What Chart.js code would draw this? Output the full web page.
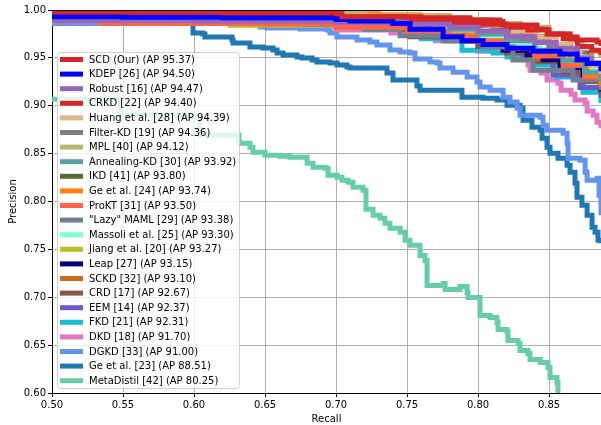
<!DOCTYPE html>
<html>
<head>
<meta charset="utf-8">
<script src="https://cdn.jsdelivr.net/npm/chart.js@4.4.0/dist/chart.umd.min.js"></script>
<style>
  html, body { margin: 0; padding: 0; background: #fff; }
</style>
</head>
<body>
<canvas id="pr" width="601" height="425"></canvas>
<script>
// precision-recall points [recall, precision]
const scd = [[0.5,0.998],[0.62,0.997],[0.70,0.996],[0.7042,0.993],[0.76,0.992],[0.7944,0.9895],[0.8155,0.988],[0.8176,0.9843],[0.8415,0.980],[0.8486,0.975],[0.8648,0.9718],[0.8697,0.9686],[0.8838,0.9665],[0.8866,0.9623],[0.89,0.958]];
const kdep = [[0.5,0.993],[0.55,0.9925],[0.62,0.992],[0.70,0.990],[0.7099,0.9885],[0.74,0.986],[0.7521,0.980],[0.7754,0.972],[0.7887,0.968],[0.8035,0.964],[0.8204,0.960],[0.8387,0.957],[0.8577,0.954],[0.8697,0.948],[0.8768,0.944],[0.8866,0.936],[0.89,0.93]];
const robust = [[0.5,0.989],[0.60,0.9885],[0.70,0.987],[0.75,0.985],[0.78,0.982],[0.80,0.978],[0.82,0.972],[0.84,0.966],[0.855,0.960],[0.87,0.950],[0.88,0.944],[0.8866,0.938],[0.89,0.934]];
const crkd = [[0.5,0.996],[0.65,0.995],[0.70,0.993],[0.75,0.990],[0.78,0.987],[0.80,0.985],[0.82,0.982],[0.835,0.979],[0.85,0.975],[0.86,0.970],[0.87,0.962],[0.88,0.958],[0.8866,0.953],[0.89,0.95]];
const huang = [[0.5,0.995],[0.60,0.994],[0.70,0.993],[0.7683,0.991],[0.79,0.988],[0.8063,0.9843],[0.825,0.978],[0.8415,0.9718],[0.855,0.964],[0.8648,0.9582],[0.8718,0.9508],[0.88,0.942],[0.8866,0.933],[0.89,0.93]];
const filterKd = [[0.5,0.994],[0.60,0.993],[0.70,0.991],[0.75,0.988],[0.79,0.984],[0.81,0.978],[0.83,0.970],[0.85,0.962],[0.865,0.955],[0.875,0.945],[0.8866,0.932],[0.89,0.928]];
const mpl = [[0.5,0.997],[0.65,0.996],[0.72,0.994],[0.78,0.990],[0.81,0.986],[0.83,0.982],[0.85,0.975],[0.865,0.968],[0.8732,0.962],[0.88,0.957],[0.8866,0.950],[0.89,0.946]];
const annealing = [[0.5,0.993],[0.60,0.992],[0.68,0.990],[0.74,0.986],[0.78,0.980],[0.80,0.975],[0.82,0.968],[0.84,0.958],[0.86,0.947],[0.875,0.935],[0.8866,0.925],[0.89,0.92]];
const ikd = [[0.5,0.996],[0.65,0.995],[0.72,0.993],[0.7521,0.990],[0.79,0.985],[0.81,0.979],[0.83,0.972],[0.85,0.963],[0.865,0.955],[0.88,0.943],[0.8866,0.935],[0.89,0.93]];
const ge24 = [[0.5,0.997],[0.65,0.996],[0.73,0.995],[0.7592,0.994],[0.78,0.990],[0.80,0.984],[0.82,0.976],[0.84,0.966],[0.855,0.956],[0.8648,0.9456],[0.8768,0.932],[0.8866,0.921],[0.89,0.917]];
const prokt = [[0.5,0.9885],[0.5345,0.9859],[0.65,0.9855],[0.70,0.982],[0.75,0.978],[0.78,0.973],[0.80,0.968],[0.82,0.960],[0.84,0.952],[0.86,0.942],[0.875,0.930],[0.8866,0.920],[0.89,0.916]];
const lazyMaml = [[0.5,0.990],[0.60,0.988],[0.68,0.985],[0.72,0.980],[0.7451,0.973],[0.7754,0.968],[0.8035,0.9613],[0.8246,0.9477],[0.8387,0.937],[0.8669,0.9268],[0.8866,0.9163],[0.89,0.912]];
const massoli = [[0.5,0.994],[0.65,0.992],[0.72,0.988],[0.77,0.980],[0.80,0.972],[0.8225,0.965],[0.8437,0.958],[0.8599,0.953],[0.8718,0.9487],[0.88,0.940],[0.8866,0.933],[0.89,0.93]];
const jiang = [[0.5,0.993],[0.60,0.990],[0.6254,0.984],[0.72,0.982],[0.76,0.978],[0.80,0.970],[0.82,0.962],[0.84,0.955],[0.86,0.945],[0.875,0.935],[0.8866,0.925],[0.89,0.92]];
const leap = [[0.5,0.992],[0.62,0.990],[0.70,0.987],[0.75,0.980],[0.79,0.968],[0.8176,0.958],[0.8345,0.953],[0.8458,0.948],[0.8577,0.940],[0.874,0.930],[0.8866,0.915],[0.89,0.91]];
const sckd = [[0.5,0.991],[0.58,0.989],[0.66,0.986],[0.70,0.982],[0.75,0.977],[0.79,0.968],[0.82,0.958],[0.84,0.950],[0.86,0.940],[0.875,0.930],[0.8866,0.918],[0.89,0.914]];
const crd = [[0.5,0.990],[0.62,0.987],[0.70,0.983],[0.7451,0.980],[0.7521,0.972],[0.7775,0.968],[0.80,0.962],[0.82,0.955],[0.84,0.946],[0.86,0.935],[0.875,0.925],[0.8866,0.912],[0.89,0.908]];
const eem = [[0.5,0.992],[0.65,0.989],[0.72,0.984],[0.77,0.972],[0.80,0.962],[0.8317,0.951],[0.8528,0.932],[0.8718,0.919],[0.8866,0.908],[0.89,0.90]];
const fkd = [[0.5,0.992],[0.57,0.990],[0.65,0.987],[0.72,0.980],[0.76,0.970],[0.7887,0.958],[0.8106,0.955],[0.8204,0.951],[0.8387,0.9425],[0.855,0.930],[0.874,0.914],[0.8866,0.903],[0.89,0.90]];
const dkd = [[0.5,0.990],[0.60,0.986],[0.70,0.979],[0.7387,0.9759],[0.77,0.968],[0.80,0.957],[0.8296,0.9498],[0.8352,0.9425],[0.8366,0.9372],[0.8444,0.9341],[0.8486,0.9268],[0.8563,0.9236],[0.8585,0.9163],[0.8655,0.9121],[0.8683,0.9059],[0.8754,0.9027],[0.8768,0.8944],[0.8810,0.8902],[0.8838,0.8828],[0.8866,0.8766],[0.89,0.87]];
const dgkd = [[0.5,0.986],[0.6465,0.9822],[0.6514,0.9812],[0.6746,0.9801],[0.6937,0.9791],[0.6958,0.9759],[0.7007,0.9718],[0.7099,0.9718],[0.7148,0.9686],[0.7239,0.9665],[0.7289,0.9634],[0.7380,0.9582],[0.7451,0.9561],[0.7521,0.9550],[0.7556,0.9487],[0.7662,0.9456],[0.7711,0.9446],[0.7732,0.9393],[0.7824,0.9351],[0.7923,0.9299],[0.7993,0.9247],[0.8014,0.9195],[0.8085,0.9163],[0.8176,0.9090],[0.8225,0.9038],[0.8275,0.8975],[0.8296,0.8902],[0.8437,0.8881],[0.8458,0.8797],[0.8486,0.8745],[0.8599,0.8713],[0.8627,0.8609],[0.8634,0.8452],[0.8718,0.8431],[0.8754,0.8305],[0.8768,0.8222],[0.8838,0.8243],[0.8852,0.8065],[0.8866,0.7856],[0.89,0.78]];
const ge23 = [[0.5,0.987],[0.5993,0.9843],[0.5993,0.9759],[0.6063,0.9749],[0.6077,0.9718],[0.6268,0.9686],[0.6275,0.9655],[0.6394,0.9613],[0.6486,0.9603],[0.6556,0.9582],[0.6585,0.9550],[0.6627,0.9529],[0.6725,0.9508],[0.6761,0.9498],[0.6831,0.9477],[0.6866,0.9456],[0.6958,0.9446],[0.7007,0.9425],[0.7077,0.9404],[0.7099,0.9393],[0.7310,0.9393],[0.7359,0.9341],[0.7401,0.9268],[0.7521,0.9268],[0.7570,0.9205],[0.7592,0.9163],[0.7754,0.9163],[0.7887,0.9090],[0.8035,0.9079],[0.8134,0.9059],[0.8204,0.9006],[0.8296,0.8975],[0.8317,0.8849],[0.8380,0.8776],[0.8437,0.8745],[0.8451,0.8661],[0.8486,0.8567],[0.8507,0.8504],[0.8563,0.8452],[0.8627,0.8379],[0.8648,0.8305],[0.8683,0.8190],[0.8697,0.8044],[0.8732,0.7960],[0.8768,0.7856],[0.8803,0.7730],[0.8824,0.7678],[0.8845,0.7594],[0.8866,0.7563],[0.89,0.75]];
const metaDistil = [[0.5,0.9069],[0.5479,0.8902],[0.6042,0.8692],[0.6317,0.8609],[0.6394,0.8567],[0.6415,0.8515],[0.6479,0.8515],[0.6500,0.8483],[0.6606,0.8473],[0.6676,0.8462],[0.6761,0.8462],[0.6796,0.8400],[0.6838,0.8358],[0.6923,0.8347],[0.6944,0.8274],[0.7007,0.8253],[0.7042,0.8222],[0.7085,0.8201],[0.7120,0.8149],[0.7190,0.8117],[0.7211,0.7918],[0.7261,0.7856],[0.7310,0.7824],[0.7345,0.7772],[0.7380,0.7720],[0.7451,0.7678],[0.7486,0.7594],[0.7521,0.7542],[0.7592,0.7437],[0.7627,0.7385],[0.7641,0.7123],[0.7754,0.7144],[0.7768,0.7082],[0.7873,0.7113],[0.7923,0.7050],[0.7930,0.6998],[0.8000,0.6998],[0.8014,0.6810],[0.8085,0.6789],[0.8134,0.6736],[0.8141,0.6663],[0.8204,0.6642],[0.8211,0.6548],[0.8282,0.6517],[0.8296,0.6444],[0.8352,0.6412],[0.8366,0.6349],[0.8437,0.6318],[0.8493,0.6266],[0.8507,0.6161],[0.8556,0.6109],[0.8563,0.5920]];

const labels = [
  'SCD (Our) (AP 95.37)', 'KDEP [26] (AP 94.50)', 'Robust [16] (AP 94.47)', 'CRKD [22] (AP 94.40)',
  'Huang et al. [28] (AP 94.39)', 'Filter-KD [19] (AP 94.36)', 'MPL [40] (AP 94.12)',
  'Annealing-KD [30] (AP 93.92)', 'IKD [41] (AP 93.80)', 'Ge et al. [24] (AP 93.74)',
  'ProKT [31] (AP 93.50)', '"Lazy" MAML [29] (AP 93.38)', 'Massoli et al. [25] (AP 93.30)',
  'Jiang et al. [20] (AP 93.27)', 'Leap [27] (AP 93.15)', 'SCKD [32] (AP 93.10)', 'CRD [17] (AP 92.67)',
  'EEM [14] (AP 92.37)', 'FKD [21] (AP 92.31)', 'DKD [18] (AP 91.70)', 'DGKD [33] (AP 91.00)',
  'Ge et al. [23] (AP 88.51)', 'MetaDistil [42] (AP 80.25)'
];
const series = [scd, kdep, robust, crkd, huang, filterKd, mpl, annealing, ikd, ge24, prokt, lazyMaml,
  massoli, jiang, leap, sckd, crd, eem, fkd, dkd, dgkd, ge23, metaDistil];
const colors = ['#d62728', '#0000ff', '#9467bd', '#d62728', '#deb887', '#7f7f7f', '#bdb76b', '#5f9ea0',
  '#556b2f', '#ff7f0e', '#ff6347', '#708090', '#7fffd4', '#bcbd22', '#000080', '#d2691e', '#8c564b',
  '#6a5acd', '#17becf', '#e377c2', '#6495ed', '#1f77b4', '#66cdaa'];
const xTicks = [0.50, 0.55, 0.60, 0.65, 0.70, 0.75, 0.80, 0.85];
const yTicks = [0.60, 0.65, 0.70, 0.75, 0.80, 0.85, 0.90, 0.95, 1.00];

const FONT = 'DejaVu Sans';

// matplotlib-like legend box inside the axes, plus the top spine
const legendBox = {
  id: 'legendBox',
  afterDatasetsDraw(chart) {
    const ctx = chart.ctx;
    const area = chart.chartArea;
    ctx.save();
    ctx.strokeStyle = '#000';
    ctx.lineWidth = 1;
    ctx.beginPath();
    ctx.moveTo(area.left, area.top + 0.5);
    ctx.lineTo(area.right, area.top + 0.5);
    ctx.stroke();

    const bx = 57.5, by = 52.5, bw = 182, bh = 336, r = 3;
    ctx.beginPath();
    ctx.roundRect(bx, by, bw, bh, r);
    ctx.fillStyle = 'rgba(255,255,255,0.8)';
    ctx.fill();
    ctx.strokeStyle = '#d0d0d0';
    ctx.stroke();

    ctx.font = '10px "' + FONT + '"';
    ctx.textBaseline = 'middle';
    ctx.textAlign = 'left';
    chart.data.datasets.forEach((ds, i) => {
      const y = 59.5 + i * 14.6;
      ctx.strokeStyle = ds.borderColor;
      ctx.lineWidth = 5;
      ctx.beginPath();
      ctx.moveTo(60, y);
      ctx.lineTo(83, y);
      ctx.stroke();
      ctx.fillStyle = '#000';
      ctx.fillText(ds.label, 89, y + 0.5);
    });
    ctx.restore();
  }
};

new Chart(document.getElementById('pr'), {
  type: 'line',
  data: {
    datasets: series.map((pts, i) => ({
      label: labels[i],
      data: pts.map(p => ({ x: p[0], y: p[1] })),
      borderColor: colors[i],
      backgroundColor: colors[i],
      borderWidth: 5,
      pointRadius: 0,
      stepped: true,
      fill: false,
      clip: 0,
    })),
  },
  options: {
    responsive: false,
    animation: false,
    events: [],
    layout: { padding: { top: 10, right: 0, left: 0, bottom: 0 } },
    scales: {
      x: {
        type: 'linear',
        min: 0.5,
        max: 0.8866,
        afterFit: s => { s.height = 32; },
        afterBuildTicks: s => { s.ticks = xTicks.map(v => ({ value: v })); },
        ticks: {
          color: '#000',
          font: { family: FONT, size: 10 },
          padding: 2,
          maxRotation: 0,
          callback: v => Number(v).toFixed(2),
        },
        grid: { color: '#b0b0b0', tickColor: '#000', tickLength: 4, lineWidth: 1 },
        border: { color: '#000', width: 1 },
        title: { display: true, text: 'Recall', color: '#000', font: { family: FONT, size: 10 }, padding: { top: 0, bottom: 0 } },
      },
      y: {
        min: 0.6,
        max: 1.0,
        afterFit: s => { s.width = 52; },
        afterBuildTicks: s => { s.ticks = yTicks.map(v => ({ value: v })); },
        ticks: {
          color: '#000',
          font: { family: FONT, size: 10 },
          padding: 2,
          callback: v => Number(v).toFixed(2),
        },
        grid: { color: '#b0b0b0', tickColor: '#000', tickLength: 4, lineWidth: 1 },
        border: { color: '#000', width: 1 },
        title: { display: true, text: 'Precision', color: '#000', font: { family: FONT, size: 10 }, padding: { top: 7, bottom: 0 } },
      },
    },
    plugins: {
      legend: { display: false },
      tooltip: { enabled: false },
    },
  },
  plugins: [legendBox],
});
</script>
</body>
</html>
